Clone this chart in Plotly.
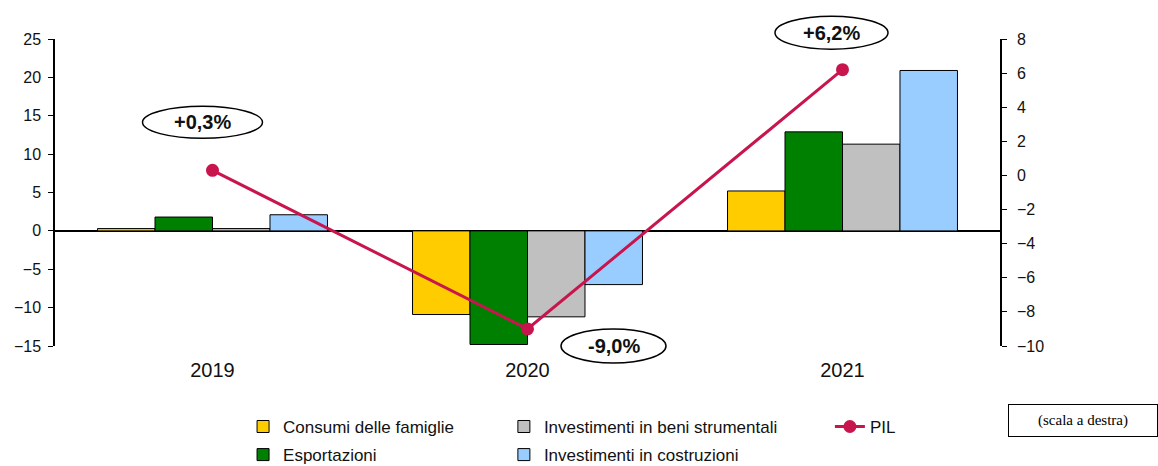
import plotly.graph_objects as go

# Anni e variazioni percentuali annue
anni = ["2019", "2020", "2021"]
consumi_famiglie = [0.3, -10.9, 5.2]
esportazioni = [1.8, -14.8, 12.9]
investimenti_beni = [0.3, -11.2, 11.3]
investimenti_costruzioni = [2.1, -7.0, 20.9]
pil = [0.3, -9.0, 6.2]
etichette_pil = ["+0,3%", "-9,0%", "+6,2%"]

tick_sx = [25, 20, 15, 10, 5, 0, -5, -10, -15]
tick_dx = [8, 6, 4, 2, 0, -2, -4, -6, -8, -10]
range_sx = [-15, 25]
range_dx = [-10, 8]

FONT = "Liberation Sans, Arial, sans-serif"
pos = list(range(len(anni)))

serie_barre = [
    ("Consumi delle famiglie", consumi_famiglie, "#FFCC00", "legend"),
    ("Esportazioni", esportazioni, "#008000", "legend"),
    ("Investimenti in beni strumentali", investimenti_beni, "#C0C0C0", "legend2"),
    ("Investimenti in costruzioni", investimenti_costruzioni, "#99CCFF", "legend2"),
]

fig = go.Figure()
for nome, valori, colore, leg in serie_barre:
    fig.add_trace(go.Bar(
        x=pos, y=valori, name=nome, legend=leg, legendgroup=nome,
        marker=dict(color=colore, line=dict(color="black", width=1)),
        hoverinfo="skip",
    ))

fig.add_trace(go.Scatter(
    x=pos, y=pil, name="PIL", yaxis="y2", legend="legend3",
    mode="lines+markers",
    line=dict(color="#C8154D", width=3),
    marker=dict(color="#C8154D", size=13),
))

# Etichette ovali dei valori del PIL, spostate in pixel rispetto al punto
offset = [(-10, 48, 120, 32), (86, -17, 105, 34), (-11, 37, 113, 33)]
for xi, yv, testo, (dx, dy, w, h) in zip(pos, pil, etichette_pil, offset):
    y_frac = (yv - range_dx[0]) / (range_dx[1] - range_dx[0])
    fig.add_shape(
        type="circle", xref="x", yref="paper",
        xsizemode="pixel", ysizemode="pixel",
        xanchor=xi, yanchor=y_frac,
        x0=dx - w / 2, x1=dx + w / 2, y0=dy - h / 2, y1=dy + h / 2,
        line=dict(color="black", width=1.5), fillcolor="white", layer="above",
    )
    fig.add_annotation(
        x=xi, y=yv, xref="x", yref="y2", text=f"<b>{testo}</b>",
        showarrow=False, xshift=dx, yshift=dy,
        font=dict(family=FONT, size=20, color="#111"),
    )

fig.add_annotation(
    xref="paper", yref="paper", x=1.0 + 8 / 945, y=-0.189,
    xanchor="left", yanchor="top",
    text="(scala a destra)", showarrow=False, width=134, height=17,
    align="center",
    font=dict(family="Liberation Serif, Times New Roman, serif", size=15, color="black"),
    bordercolor="black", borderwidth=1, borderpad=7, bgcolor="white",
)

leg_comune = dict(
    orientation="v", yanchor="top", xanchor="left", y=-0.205,
    font=dict(family=FONT, size=17, color="#111"),
    tracegroupgap=3, bgcolor="rgba(0,0,0,0)",
)
fig.update_layout(
    width=1158, height=466,
    margin=dict(l=55, r=158, t=39, b=120, autoexpand=False),
    paper_bgcolor="white", plot_bgcolor="white",
    barmode="group", bargap=0.27, bargroupgap=0,
    showlegend=True,
    legend=dict(x=0.199, **leg_comune),
    legend2=dict(x=0.475, **leg_comune),
    legend3=dict(x=0.820, **leg_comune),
    xaxis=dict(
        range=[-0.5, 2.5], tickvals=pos, ticktext=anni,
        showgrid=False, zeroline=False, showline=False, ticks="",
        ticklabelstandoff=10,
        tickfont=dict(family=FONT, size=20, color="#111"),
    ),
    yaxis=dict(
        range=range_sx, tickvals=tick_sx, showgrid=False,
        zeroline=True, zerolinecolor="black", zerolinewidth=1.5,
        showline=True, linecolor="black", linewidth=1.5,
        ticks="outside", ticklen=5, tickcolor="black",
        ticklabelstandoff=4,
        tickfont=dict(family=FONT, size=16, color="#111"),
    ),
    yaxis2=dict(
        range=range_dx, tickvals=tick_dx, overlaying="y", side="right",
        showgrid=False, zeroline=False,
        showline=True, linecolor="black", linewidth=1.5,
        ticks="outside", ticklen=5, tickcolor="black",
        ticklabelstandoff=7,
        tickfont=dict(family=FONT, size=16, color="#111"),
    ),
)

fig.write_html("out.html")
